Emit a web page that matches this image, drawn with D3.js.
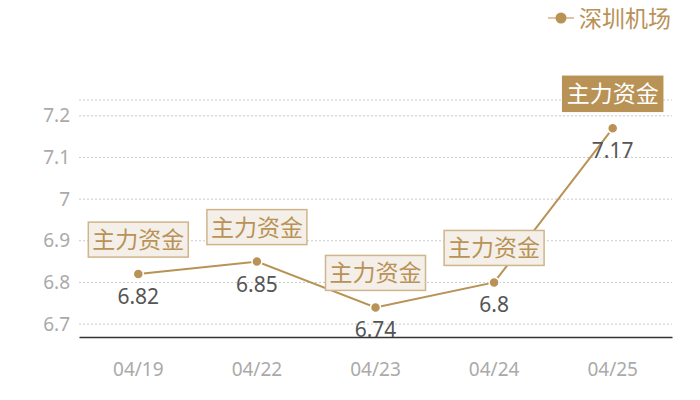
<!DOCTYPE html>
<html>
<head>
<meta charset="utf-8">
<script src="https://cdn.jsdelivr.net/npm/d3@7"></script>
<style>
  body { margin: 0; background: #fff; }
  svg text { font-family: "Noto Sans CJK SC", "Noto Sans", sans-serif; }
</style>
</head>
<body>
<svg id="chart" width="700" height="400"></svg>
<script>
// data
var dates = ["04/19", "04/22", "04/23", "04/24", "04/25"];
var values = [6.82, 6.85, 6.74, 6.8, 7.17];
var yTicks = [6.7, 6.8, 6.9, 7, 7.1, 7.2];
var seriesName = "深圳机场";
var flagText = "主力资金";

var gold = "#b99256";
var svg = d3.select("#chart");

var x = d3.scaleBand().domain(dates).range([79, 672]);
var y = d3.scaleLinear().domain([6.669, 7.238]).range([337, 100]);

// grid lines, dotted
var grid = svg.append("g");
grid.selectAll("line")
    .data(yTicks.concat([y.domain()[1]]))
    .enter().append("line")
    .attr("x1", 79).attr("x2", 672)
    .attr("y1", function(d){ return y(d); })
    .attr("y2", function(d){ return y(d); })
    .attr("stroke", "#c8c8c8")
    .attr("stroke-dasharray", "2,2");

// y axis labels
var yAxis = d3.axisLeft(y).tickValues(yTicks).tickSize(0).tickPadding(9)
    .tickFormat(function(d){ return d3.format("")(d); });
svg.append("g").attr("transform", "translate(79,0)").call(yAxis)
    .call(function(g){ g.select(".domain").remove(); })
    .selectAll("text")
    .attr("fill", "#aaa").style("font-size", "19px")
    .style("font-family", "'Noto Sans', sans-serif");

// x axis
var xAxis = d3.axisBottom(x).tickSize(0).tickPadding(26);
var xg = svg.append("g").attr("transform", "translate(0,337)").call(xAxis);
xg.select(".domain").attr("stroke", "#333").attr("stroke-width", 1.5);
xg.selectAll("text").attr("fill", "#aaa").style("font-size", "19px")
    .style("font-family", "'Noto Sans', sans-serif");

var cx = function(i){ return x(dates[i]) + x.bandwidth() / 2; };

// the line
var line = d3.line()
    .x(function(d, i){ return cx(i); })
    .y(function(d){ return y(d); });
svg.append("path").datum(values)
    .attr("d", line)
    .attr("fill", "none")
    .attr("stroke", gold)
    .attr("stroke-width", 2);

svg.selectAll(".dot").data(values).enter().append("circle")
    .attr("class", "dot")
    .attr("cx", function(d, i){ return cx(i); })
    .attr("cy", function(d){ return y(d); })
    .attr("r", 5)
    .attr("fill", gold)
    .attr("stroke", "#fff")
    .attr("stroke-width", 1.5);

// value labels under points
svg.selectAll(".val").data(values).enter().append("text")
    .attr("class", "val")
    .attr("x", function(d, i){ return cx(i); })
    .attr("y", function(d){ return y(d) + 30; })
    .attr("text-anchor", "middle")
    .attr("fill", "#555")
    .style("font-size", "21px")
    .style("font-family", "'Noto Sans', sans-serif")
    .text(function(d){ return d; });

// flag boxes above points, last one is filled
var last = values.length - 1;
var flags = svg.selectAll(".flag").data(values).enter().append("g")
    .attr("class", "flag")
    .attr("transform", function(d, i){
        return "translate(" + cx(i) + "," + (y(d) - 17) + ")";
    });
flags.append("rect")
    .attr("x", -50).attr("y", -35)
    .attr("width", 100).attr("height", 35)
    .attr("fill", function(d, i){ return i === last ? gold : "#f4efe8"; })
    .attr("stroke", function(d, i){ return i === last ? gold : "#cfb58a"; })
    .attr("stroke-width", 1.5);
flags.append("text")
    .attr("x", 0).attr("y", -9)
    .attr("text-anchor", "middle")
    .attr("fill", function(d, i){ return i === last ? "#fff" : gold; })
    .style("font-size", "23px")
    .text(flagText);

// legend
var lg = svg.append("g").attr("transform", "translate(548,18)");
lg.append("line").attr("x1", 0).attr("x2", 26).attr("y1", 0).attr("y2", 0)
    .attr("stroke", "#dcc7a2").attr("stroke-width", 2);
lg.append("circle").attr("cx", 13).attr("cy", 0).attr("r", 5.5).attr("fill", gold);
lg.append("text").attr("x", 31).attr("y", 9)
    .attr("fill", gold)
    .style("font-size", "23px")
    .text(seriesName);
</script>
</body>
</html>
